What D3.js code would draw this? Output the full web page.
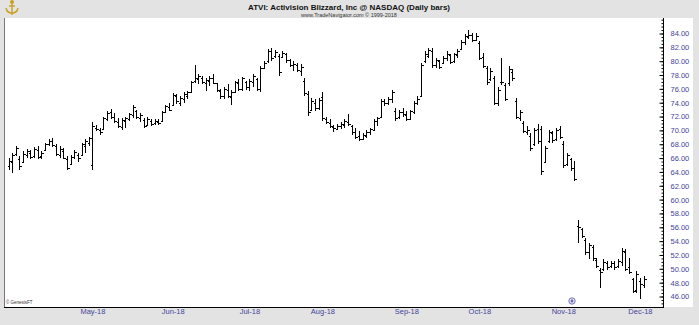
<!DOCTYPE html>
<html><head><meta charset="utf-8">
<script src="https://cdn.jsdelivr.net/npm/d3@7"></script>
<style>html,body{margin:0;padding:0;background:#e3e3e3;}svg{display:block;}</style>
</head><body>
<svg id="chart" width="699" height="325"></svg>
<script>
const highs = [66.0,66.8,67.7,66.3,67.0,67.3,67.2,67.6,67.7,67.0,68.2,68.8,68.9,68.0,67.7,67.5,66.3,66.5,67.2,66.8,
68.2,68.7,69.1,71.2,70.8,70.4,72.0,72.8,73.1,72.5,71.8,71.8,72.0,72.5,73.7,73.0,72.5,71.8,72.0,71.6,
71.6,71.6,72.8,73.7,74.0,75.4,75.3,75.0,75.5,75.7,77.2,79.5,78.1,77.9,77.6,77.9,78.1,76.9,76.0,76.2,
76.7,75.8,77.2,77.4,77.7,77.2,77.4,78.1,77.6,79.3,80.0,81.7,81.9,81.6,81.0,81.5,81.2,80.3,80.0,79.8,
79.6,77.6,75.7,74.7,74.5,74.7,75.5,71.9,71.6,70.8,70.9,71.2,71.6,72.3,70.8,70.4,69.9,69.6,70.1,70.4,
71.6,72.0,74.5,74.6,74.8,75.9,73.3,73.0,73.3,72.8,73.0,74.2,74.9,79.8,81.4,81.9,81.9,80.5,80.2,80.8,
81.4,81.0,81.2,81.7,83.0,83.9,84.5,84.1,84.1,82.9,81.2,79.3,79.0,77.8,76.2,80.5,76.9,79.3,78.8,74.7,
73.0,71.3,70.6,69.6,70.4,70.9,70.6,67.7,70.1,69.9,70.4,70.6,68.4,66.8,66.0,65.6,57.1,55.9,54.5,53.8,
53.5,51.6,50.1,51.4,51.2,51.2,51.2,51.4,53.0,52.8,51.6,48.7,49.7,48.7,48.9];
const lows = [64.3,63.9,66.3,64.3,65.3,66.0,65.8,66.0,65.8,65.9,67.0,67.7,67.6,66.3,66.0,65.8,64.3,65.0,65.8,65.5,
66.3,66.8,67.7,64.3,69.9,69.4,70.1,71.4,71.6,71.0,70.3,70.1,70.4,71.3,71.8,71.6,71.2,70.4,70.6,70.6,
70.8,70.8,71.2,72.5,72.8,73.5,73.8,73.5,74.0,74.5,75.4,76.9,76.7,76.7,75.7,76.4,76.7,75.5,74.6,74.5,
74.7,73.6,75.5,75.7,75.7,75.9,75.7,76.2,75.7,75.5,78.8,79.8,80.0,80.5,77.9,80.5,79.8,79.1,78.6,78.4,
77.9,75.0,72.1,72.8,72.8,73.0,71.4,70.9,70.4,69.8,70.0,70.2,70.4,70.6,69.4,68.8,68.4,68.6,68.9,69.4,
69.9,70.7,71.8,73.5,73.7,74.0,71.3,71.6,72.0,71.3,71.5,72.3,73.7,74.9,79.8,80.5,79.0,79.0,78.9,79.6,
80.0,79.6,79.8,80.5,81.6,82.4,83.2,82.7,82.9,80.2,79.0,76.6,77.1,73.7,73.5,76.6,74.2,76.4,77.1,71.6,
71.3,69.6,69.4,67.0,67.7,68.0,63.6,65.3,68.2,68.2,68.5,68.7,64.5,64.8,64.1,62.7,53.8,54.5,52.0,51.4,
51.1,50.1,47.3,49.7,49.8,50.1,49.8,50.1,50.4,49.7,49.2,46.5,46.5,45.6,47.3];
const opens = [64.8,65.5,66.6,65.8,65.5,66.4,66.8,66.3,67.2,66.3,67.2,68.0,68.4,67.8,66.5,67.0,65.8,65.1,66.2,66.5,
66.4,67.8,68.2,65.0,70.4,70.0,70.2,71.6,72.6,72.0,71.2,70.5,71.3,71.6,72.2,72.8,71.8,71.5,70.8,71.4,
71.0,71.2,71.3,72.7,73.4,73.6,75.0,74.0,74.6,75.0,75.6,77.2,77.4,77.6,76.9,77.2,77.5,76.8,75.7,75.0,
75.8,74.8,75.6,76.8,76.0,77.0,76.2,77.0,77.4,76.0,79.0,80.0,81.4,80.7,80.8,80.6,81.0,80.1,79.4,79.5,
78.6,77.2,75.2,73.0,74.0,73.3,74.8,71.6,71.0,70.5,70.2,70.6,70.8,71.2,70.6,69.8,69.2,68.8,69.2,69.7,
70.1,71.3,72.0,74.2,74.0,74.5,72.8,71.9,72.6,72.2,71.7,72.6,74.0,75.0,80.0,80.8,81.5,79.4,80.0,79.8,
80.4,80.9,80.0,80.9,81.7,82.7,83.5,83.8,83.1,82.6,80.6,79.0,77.4,77.5,74.0,77.0,76.5,76.8,78.5,74.3,
71.8,71.0,69.8,69.2,68.0,70.2,70.2,65.5,68.4,69.6,68.8,70.2,68.0,65.2,65.8,64.6,56.2,55.8,54.2,52.5,
53.2,51.3,49.8,50.0,50.9,50.4,50.8,50.4,51.0,52.5,50.2,48.5,47.0,48.2,47.6];
const closes = [65.6,66.4,67.4,64.8,66.6,67.0,66.2,67.3,66.2,66.8,68.0,68.5,67.9,66.6,67.3,66.0,64.6,66.2,66.9,66.0,
68.0,68.4,68.9,70.6,70.2,69.8,71.8,72.5,72.0,71.3,70.6,71.5,71.8,72.3,73.4,71.9,72.2,70.7,71.7,70.9,
71.4,71.0,72.6,73.5,73.0,75.1,74.2,74.7,75.2,75.5,77.0,77.5,77.8,77.0,77.3,77.6,76.9,75.8,75.0,76.0,
74.9,75.5,77.0,76.0,77.5,76.2,77.2,77.8,76.0,79.0,79.8,81.5,80.5,81.3,78.4,81.2,80.1,79.4,79.6,78.7,
79.2,75.4,72.6,74.2,73.2,74.4,71.8,71.2,70.7,70.3,70.7,70.9,71.3,70.9,69.7,69.0,68.7,69.3,69.8,70.2,
71.4,71.8,74.2,73.9,74.5,75.6,71.8,72.7,72.3,71.6,72.8,74.0,74.6,79.5,81.0,81.6,79.4,80.2,79.2,80.5,
81.1,79.9,81.0,81.5,82.8,83.6,83.8,83.0,83.7,80.5,79.3,77.0,78.6,74.0,75.8,77.0,74.6,78.9,77.5,72.0,
72.6,69.9,70.0,67.4,70.0,68.5,64.2,67.4,69.8,68.6,70.1,69.0,65.0,66.4,64.5,63.0,56.0,54.8,52.4,53.5,
51.6,50.4,49.6,51.0,50.2,50.9,50.3,51.2,52.6,50.0,49.5,46.8,49.2,47.8,48.6];

const monthLabels = ["May-18","Jun-18","Jul-18","Aug-18","Sep-18","Oct-18","Nov-18","Dec-18"];
const monthIndex = [23,45,66,86,109,129,152,173];
const priceTicks = d3.range(46, 84.01, 2);

const svg = d3.select("#chart");
const W = 699, H = 325;
const plotL = 4, plotT = 18, axisX = 663, plotB = 307, whiteR = 693;

svg.append("rect").attr("width", W).attr("height", H).attr("fill", "#e3e3e3");
svg.append("rect").attr("x", plotL).attr("y", plotT).attr("width", whiteR - plotL).attr("height", plotB - plotT).attr("fill", "#fff");
svg.append("line").attr("x1", plotL + 0.5).attr("x2", plotL + 0.5).attr("y1", plotT).attr("y2", plotB).attr("stroke", "#777");

const N = highs.length;
const x = d3.scaleLinear().domain([0, N - 1]).range([8.5, 643.6]);
const y = d3.scaleLinear().domain([46, 84]).range([296.5, 33.5]);

// bars
const bars = svg.append("g").attr("stroke", "#000").attr("stroke-width", 1).attr("shape-rendering", "crispEdges");
d3.range(N).forEach(i => {
  const cx = Math.round(x(i)) + 0.5;
  bars.append("line").attr("x1", cx).attr("x2", cx).attr("y1", y(highs[i])).attr("y2", y(lows[i]));
  bars.append("line").attr("x1", cx - 2).attr("x2", cx).attr("y1", Math.round(y(opens[i])) + 0.5).attr("y2", Math.round(y(opens[i])) + 0.5);
  bars.append("line").attr("x1", cx).attr("x2", cx + 2).attr("y1", Math.round(y(closes[i])) + 0.5).attr("y2", Math.round(y(closes[i])) + 0.5);
});

// right axis: minor ticks
const minorAxis = d3.axisRight(y).tickValues(d3.range(44.5, 86.1, 0.5)).tickSize(-2).tickFormat("");
const gMinor = svg.append("g").attr("transform", `translate(${axisX + 0.5},0)`).call(minorAxis);
gMinor.select(".domain").remove();
gMinor.selectAll("line").attr("stroke", "#000");

const yAxis = d3.axisRight(y).tickValues(priceTicks).tickSizeInner(-4).tickSizeOuter(0).tickPadding(7).tickFormat(d3.format(".2f"));
const gY = svg.append("g").attr("transform", `translate(${axisX + 0.5},0)`).call(yAxis);
gY.select(".domain").remove();
gY.selectAll("line").attr("stroke", "#000");
gY.selectAll("text").attr("font-family", "Liberation Sans, Arial, sans-serif").attr("font-size", "7.5px").attr("fill", "#44449a");
svg.append("line").attr("x1", axisX + 0.5).attr("x2", axisX + 0.5).attr("y1", plotT).attr("y2", plotB).attr("stroke", "#000");

// bottom axis
svg.append("line").attr("x1", plotL).attr("x2", axisX + 1).attr("y1", plotB + 0.5).attr("y2", plotB + 0.5).attr("stroke", "#000");
const xAxis = d3.axisBottom(x).tickValues(monthIndex).tickSize(0).tickPadding(1).tickFormat((d, i) => monthLabels[i]);
const gX = svg.append("g").attr("transform", `translate(0,${plotB + 1})`).call(xAxis);
gX.select(".domain").remove();
gX.selectAll("text").attr("font-family", "Liberation Sans, Arial, sans-serif").attr("font-size", "7.5px").attr("fill", "#44449a");

// title
svg.append("text").attr("x", 349).attr("y", 9.5).attr("text-anchor", "middle")
  .attr("font-family", "Liberation Sans, Arial, sans-serif").attr("font-weight", "bold").attr("font-size", "8px").attr("fill", "#111")
  .text("ATVI:  Activision Blizzard, Inc @ NASDAQ  (Daily bars)");
svg.append("text").attr("x", 349).attr("y", 16.5).attr("text-anchor", "middle")
  .attr("font-family", "Liberation Sans, Arial, sans-serif").attr("font-size", "5.5px").attr("fill", "#333")
  .text("www.TradeNavigator.com © 1999-2018");

// logo
const logo = svg.append("g").attr("transform", "translate(12,9)").attr("stroke", "#c8a020").attr("fill", "none").attr("stroke-width", 1.4);
logo.append("line").attr("x1", 0).attr("x2", 0).attr("y1", -7).attr("y2", 6);
logo.append("path").attr("d", "M-6,-1 Q-5,4 0,4 Q5,4 6,-1");
logo.append("line").attr("x1", -3).attr("x2", 3).attr("y1", -3).attr("y2", -3);
logo.append("circle").attr("cx", 0).attr("cy", -7).attr("r", 1.3).attr("fill", "#c8a020");

// footer text
svg.append("text").attr("x", 6).attr("y", 304).attr("font-family", "Liberation Sans, Arial, sans-serif").attr("font-size", "4.5px").attr("fill", "#333").text("© GenesisFT");

// event marker near Nov
const mk = svg.append("g").attr("transform", `translate(${Math.round(x(154.5))},301)`);
mk.append("circle").attr("r", 3.2).attr("fill", "#e8e8f8").attr("stroke", "#6666b0").attr("stroke-width", 0.9);
mk.append("path").attr("d", "M0,-2 L1.6,0 L0,2 L-1.6,0 Z").attr("fill", "#6666b0");
</script>
</body></html>
